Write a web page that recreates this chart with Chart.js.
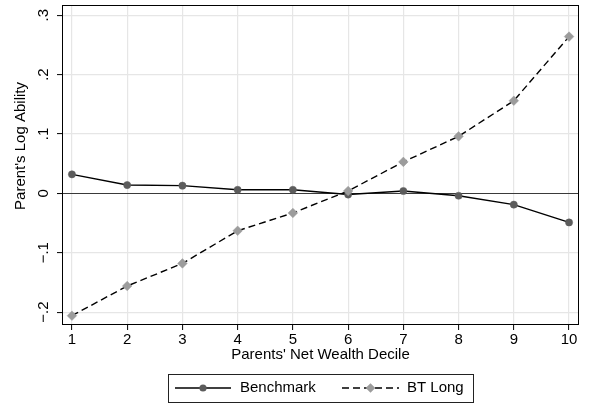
<!DOCTYPE html>
<html>
<head>
<meta charset="utf-8">
<script src="https://cdn.jsdelivr.net/npm/chart.js@4.4.1/dist/chart.umd.min.js"></script>
<style>
  html, body { margin: 0; padding: 0; background: #fff; }
  #wrap { width: 591px; height: 406px; }
</style>
</head>
<body>
<div id="wrap"><canvas id="chart" width="591" height="406"></canvas></div>
<script>
// ── Data ────────────────────────────────────────────────────────────────────
const deciles   = [1, 2, 3, 4, 5, 6, 7, 8, 9, 10];
const benchmark = [0.032, 0.014, 0.013, 0.006, 0.006, -0.002, 0.004, -0.004, -0.019, -0.049];
const btLong    = [-0.206, -0.156, -0.118, -0.063, -0.033, 0.004, 0.053, 0.096, 0.156, 0.264];

const yTickValues = [-0.2, -0.1, 0, 0.1, 0.2, 0.3];
const yTickLabels = ['\u2212.2', '\u2212.1', '0', '.1', '.2', '.3'];
const seriesNames = ['Benchmark', 'BT Long'];
const xTitle = "Parents' Net Wealth Decile";
const yTitle = "Parent's Log Ability";

const FONT = "'Liberation Sans', Arial, Helvetica, sans-serif";
const GRID = '#e6e6e6';

const toPoints = vals => deciles.map((d, i) => ({ x: d, y: vals[i] }));

// ── Extra drawing: frame, rotated y labels, y title, legend ─────────────────
const stataPlugin = {
  id: 'stata',
  beforeDraw(chart) {
    const ctx = chart.ctx;
    ctx.save();
    ctx.fillStyle = '#fff';
    ctx.fillRect(0, 0, chart.width, chart.height);
    ctx.restore();
  },
  afterDraw(chart) {
    const ctx = chart.ctx;
    const a = chart.chartArea;
    const ys = chart.scales.y;

    // plot frame
    ctx.save();
    ctx.strokeStyle = '#000';
    ctx.lineWidth = 1;
    ctx.strokeRect(Math.round(a.left) + 0.5, Math.round(a.top) + 0.5,
                   Math.round(a.right - a.left) - 1, Math.round(a.bottom - a.top) - 1);

    // rotated y tick labels
    ctx.fillStyle = '#000';
    ctx.font = '15px ' + FONT;
    ctx.textAlign = 'center';
    ctx.textBaseline = 'middle';
    yTickValues.forEach((v, i) => {
      ctx.save();
      ctx.translate(44, ys.getPixelForValue(v));
      ctx.rotate(-Math.PI / 2);
      ctx.fillText(yTickLabels[i], 0, 0);
      ctx.restore();
    });

    // y title
    ctx.save();
    ctx.translate(21, 146);
    ctx.rotate(-Math.PI / 2);
    ctx.fillText(yTitle, 0, 0);
    ctx.restore();

    // legend
    const lx = 168, ly = 374, lw = 305, lh = 28, cy = ly + lh / 2;
    ctx.strokeStyle = '#222';
    ctx.lineWidth = 1;
    ctx.strokeRect(lx + 0.5, ly + 0.5, lw, lh);

    const samples = [
      { ds: chart.data.datasets[1], x0: 175, x1: 231, tx: 240 },
      { ds: chart.data.datasets[0], x0: 342, x1: 399, tx: 407 }
    ];
    samples.forEach(s => {
      const m = (s.x0 + s.x1) / 2, r = s.ds.pointRadius;
      ctx.save();
      ctx.strokeStyle = s.ds.borderColor;
      ctx.lineWidth = s.ds.borderWidth;
      ctx.setLineDash(s.ds.borderDash || []);
      ctx.beginPath();
      ctx.moveTo(s.x0, cy);
      ctx.lineTo(s.x1, cy);
      ctx.stroke();
      ctx.restore();

      ctx.save();
      ctx.fillStyle = s.ds.pointBackgroundColor;
      ctx.beginPath();
      if (s.ds.pointStyle === 'rectRot') {
        ctx.moveTo(m, cy - r); ctx.lineTo(m + r, cy); ctx.lineTo(m, cy + r); ctx.lineTo(m - r, cy);
        ctx.closePath();
      } else {
        ctx.arc(m, cy, r, 0, Math.PI * 2);
      }
      ctx.fill();
      ctx.restore();

      ctx.fillStyle = '#000';
      ctx.textAlign = 'left';
      ctx.fillText(s.ds.label, s.tx, cy);
    });
    ctx.restore();
  }
};

// ── Chart ───────────────────────────────────────────────────────────────────
new Chart(document.getElementById('chart'), {
  type: 'line',
  data: {
    datasets: [
      {
        label: seriesNames[1],
        data: toPoints(btLong),
        order: 0,
        borderColor: '#000',
        borderWidth: 1.4,
        borderDash: [7, 4],
        pointStyle: 'rectRot',
        pointRadius: 4.8,
        pointBackgroundColor: '#9c9c9c',
        pointBorderColor: '#9c9c9c',
        pointBorderWidth: 0.5,
        tension: 0,
        fill: false
      },
      {
        label: seriesNames[0],
        data: toPoints(benchmark),
        order: 1,
        borderColor: '#000',
        borderWidth: 1.4,
        pointStyle: 'circle',
        pointRadius: 3.6,
        pointBackgroundColor: '#5c5c5c',
        pointBorderColor: '#5c5c5c',
        pointBorderWidth: 0.5,
        tension: 0,
        fill: false
      }
    ]
  },
  options: {
    responsive: false,
    animation: false,
    layout: { padding: { left: 0, right: 12, top: 3, bottom: 42 } },
    plugins: {
      legend: { display: false },
      tooltip: { enabled: false }
    },
    scales: {
      x: {
        type: 'linear',
        min: 0.82,
        max: 10.18,
        afterBuildTicks: s => { s.ticks = deciles.map(v => ({ value: v })); },
        afterFit: s => { s.height = 39; },
        grid: { color: GRID, lineWidth: 1.2, tickColor: '#000', tickLength: 5, tickWidth: 1 },
        border: { display: false },
        ticks: {
          color: '#000',
          font: { family: FONT, size: 15 },
          padding: 1,
          maxRotation: 0,
          autoSkip: false
        },
        title: {
          display: true,
          text: xTitle,
          color: '#000',
          font: { family: FONT, size: 15 },
          padding: { top: 0, bottom: 0 }
        }
      },
      y: {
        type: 'linear',
        min: -0.2217,
        max: 0.3167,
        afterBuildTicks: s => { s.ticks = yTickValues.map(v => ({ value: v })); },
        afterFit: s => { s.width = 62; },
        grid: {
          color: ctx => (ctx.tick && ctx.tick.value === 0 ? '#3a3a3a' : GRID),
          lineWidth: ctx => (ctx.tick && ctx.tick.value === 0 ? 1.1 : 1.2),
          tickColor: '#000',
          tickLength: 5,
          tickWidth: 1
        },
        border: { display: false },
        ticks: { display: false }
      }
    }
  },
  plugins: [stataPlugin]
});
</script>
</body>
</html>
